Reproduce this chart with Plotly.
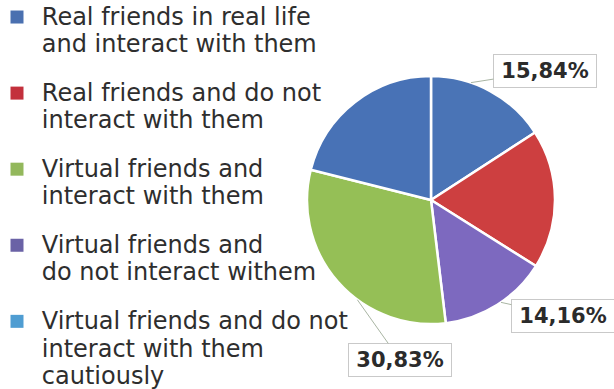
import math
import plotly.graph_objects as go

# Legend categories (legend order) and their swatch colours
categories = [
    "Real friends in real life|and interact with them",
    "Real friends and do not|interact with them",
    "Virtual friends and|interact with them",
    "Virtual friends and|do not interact withem",
    "Virtual friends and do not|interact with them|cautiously",
]
legend_colors = ["#4a70b0", "#c3303c", "#93b85c", "#6a62a6", "#4f9dd2"]

# Pie slices, clockwise from 12 o'clock
slice_labels = [categories[0], categories[1], categories[3], categories[2], categories[4]]
slice_values = [15.84, 18.10, 14.16, 30.83, 21.07]
slice_colors = ["#4a74b6", "#cd3f40", "#7d69bf", "#95bf56", "#4872b6"]

# Slices that carry a value box
labelled = [15.84, 14.16, 30.83]

W, H = 614, 389
cx, cy, r = 431, 200, 124

fig = go.Figure()

fig.add_trace(go.Pie(
    labels=[s.replace("|", " ") for s in slice_labels],
    values=slice_values,
    marker=dict(colors=slice_colors, line=dict(color="white", width=2.5)),
    sort=False,
    direction="clockwise",
    rotation=0,
    textinfo="none",
    hoverinfo="label+percent",
    showlegend=False,
    domain=dict(x=[(cx - r) / W, (cx + r) / W], y=[1 - (cy + r) / H, 1 - (cy - r) / H]),
))

# Legend entries
for name, col in zip(categories, legend_colors):
    lines = name.split("|")
    text = "<br>".join(f"<span style='font-size:24px'>\u2009{ln}</span>" for ln in lines)
    fig.add_trace(go.Scatter(
        x=[None], y=[None], mode="markers",
        marker=dict(symbol="square", size=13, color=col),
        name=text, legendgroup=name, showlegend=True,
    ))

# Value boxes with leader lines
box_centers = {15.84: (545, 71), 14.16: (563, 316), 30.83: (400, 360)}
tip_frac = {15.84: 0.33, 14.16: 0.46, 30.83: 0.39}
total = sum(slice_values)
annotations = []
cum = 0.0
for v in slice_values:
    if v in labelled:
        theta = math.radians(90 - 360 * (cum + tip_frac[v] * v) / total)
        tx = cx + r * math.cos(theta)
        ty = cy - r * math.sin(theta)
        bx, by = box_centers[v]
        annotations.append(dict(
            x=tx / W, y=1 - ty / H, xref="paper", yref="paper",
            text=f"{v:.2f}".replace(".", ",") + "%",
            showarrow=True, arrowhead=0, arrowwidth=1, arrowcolor="#a9b5a3",
            ax=bx - tx, ay=by - ty,
            font=dict(family="DejaVu Sans", size=21, color="#2b2b2b", weight="bold"),
            bgcolor="white", bordercolor="#c9c9c9", borderwidth=1, borderpad=3,
            width=96, height=26,
        ))
    cum += v

fig.update_layout(
    width=W, height=H,
    margin=dict(l=0, r=0, t=0, b=0, autoexpand=False),
    paper_bgcolor="white", plot_bgcolor="white",
    xaxis=dict(visible=False), yaxis=dict(visible=False),
    showlegend=True,
    legend=dict(
        x=-3 / W, y=1 + 3 / H, xanchor="left", yanchor="top",
        font=dict(family="DejaVu Sans", size=20.8, color="#2e2e2e"),
        tracegroupgap=19, valign="top", bgcolor="rgba(0,0,0,0)",
        maxheight=600, itemclick=False, itemdoubleclick=False,
    ),
    annotations=annotations,
)

fig.write_html("out.html")
